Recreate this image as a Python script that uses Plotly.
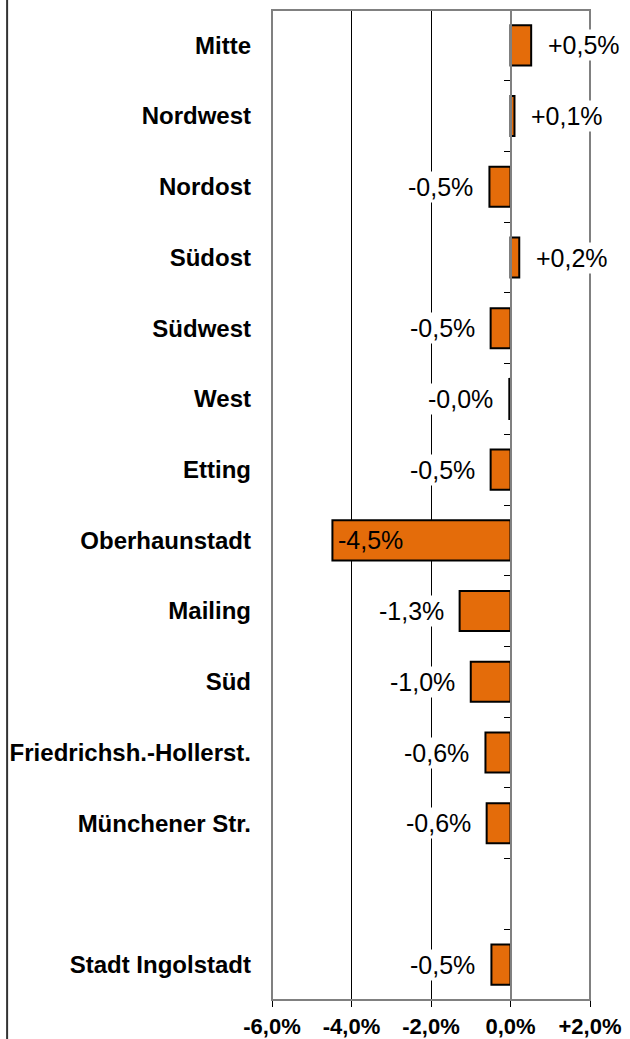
import plotly.graph_objects as go

# Veraenderung je Stadtbezirk (in %)
districts = [
    "Mitte", "Nordwest", "Nordost", "Südost", "Südwest", "West", "Etting",
    "Oberhaunstadt", "Mailing", "Süd", "Friedrichsh.-Hollerst.",
    "Münchener Str.", "Stadt Ingolstadt",
]
change_pct = [0.52, 0.10, -0.53, 0.22, -0.50, -0.03, -0.50,
              -4.48, -1.28, -1.00, -0.63, -0.60, -0.48]

# Leerzeile zwischen Bezirken und Gesamtstadt
category_order = districts[:-1] + [" "] + districts[-1:]

x_ticks = [-6, -4, -2, 0, 2]
x_tick_text = ["-6,0%", "-4,0%", "-2,0%", "0,0%", "+2,0%"]

ORANGE = "#E46C0A"
GRAY = "#808080"
FONT = "Liberation Sans, Arial, sans-serif"


def fmt(v):
    return f"{v:+.1f}".replace(".", ",") + "%"


fig = go.Figure()
fig.add_trace(go.Bar(
    x=change_pct, y=districts, orientation="h", width=0.567,
    marker=dict(color=ORANGE, line=dict(color="black", width=2)),
    hoverinfo="skip", showlegend=False,
))
# gleiche Daten auf der Nullachse, nur fuer deren Striche
fig.add_trace(go.Bar(
    x=change_pct, y=districts, orientation="h", width=0.567, yaxis="y2",
    marker=dict(color="rgba(0,0,0,0)", line=dict(width=0)),
    hoverinfo="skip", showlegend=False,
))

x0, x1 = x_ticks[0], x_ticks[-1]
for name, v in zip(districts, change_pct):
    if v < -4:  # zu lang: Wert in den Balken
        anchor, shift, bg = "left", 4, "rgba(0,0,0,0)"
    elif v < 0:
        anchor, shift, bg = "right", -14, "white"
    else:
        anchor, shift, bg = "left", 15, "white"
    fig.add_annotation(
        x=v, y=name, text=fmt(v), showarrow=False,
        xanchor=anchor, xshift=shift, bgcolor=bg, borderpad=1,
        font=dict(size=25, color="black", family=FONT),
    )

# Rahmen oben/links/rechts grau
fig.add_shape(type="rect", xref="x domain", yref="y domain", x0=0, x1=1, y0=0, y1=1,
              line=dict(color=GRAY, width=2), layer="above")
# schwarze Linie am linken Bildrand
fig.add_shape(type="line", xref="paper", yref="paper", x0=-0.833, x1=-0.833,
              y0=-0.05, y1=1.02, line=dict(color="#333333", width=2))

fig.update_layout(
    width=630, height=1039,
    margin=dict(l=272, r=40, t=10, b=39),
    plot_bgcolor="white", paper_bgcolor="white",
    font=dict(family=FONT, color="black"),
    bargap=0.43,
    xaxis=dict(
        range=[x0, x1], tickvals=x_ticks, ticktext=x_tick_text,
        showgrid=True, gridcolor="black", gridwidth=1, zeroline=False,
        showline=True, linecolor="black", linewidth=1,
        ticks="outside", ticklen=6, tickcolor="black",
        tickfont=dict(size=22, weight="bold", family=FONT),
        ticklabelstandoff=1, automargin=False,
    ),
    yaxis=dict(
        categoryorder="array", categoryarray=category_order,
        range=[len(category_order) - 0.5, -0.5],
        showgrid=False, zeroline=False, showline=False, ticks="",
        tickfont=dict(size=24, weight="bold", family=FONT),
        ticklabelstandoff=20, automargin=False,
    ),
    yaxis2=dict(
        overlaying="y", matches="y", anchor="free",
        position=(0 - x0) / (x1 - x0),
        categoryorder="array", categoryarray=category_order,
        showgrid=False, zeroline=False, showticklabels=False,
        showline=True, linecolor=GRAY, linewidth=2,
        ticks="outside", tickson="boundaries", ticklen=6, tickcolor="black",
        automargin=False,
    ),
)

fig.write_html("out.html", config={"displayModeBar": False},
               post_script="document.body.style.margin='0';")
